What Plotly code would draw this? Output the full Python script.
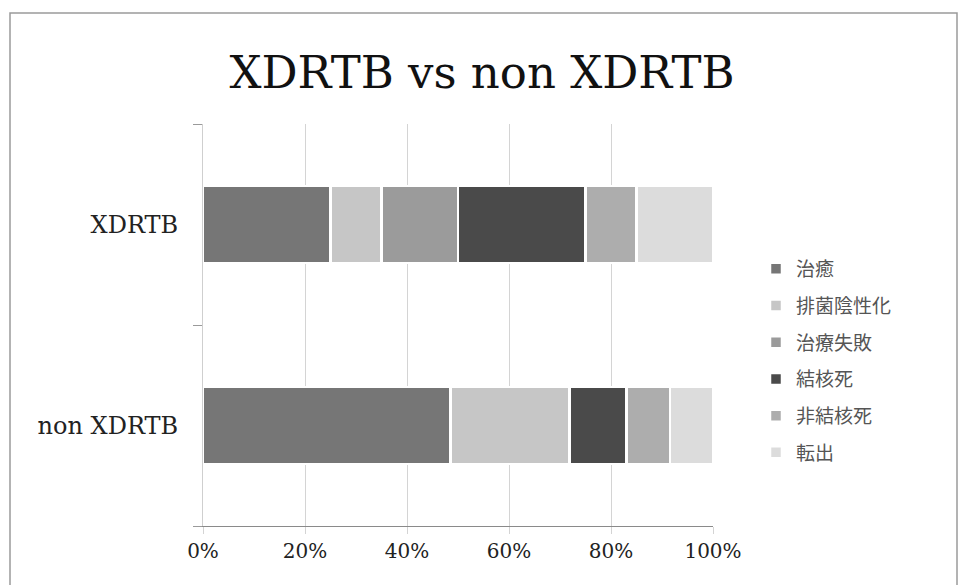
import plotly.graph_objects as go

# Outcome shares (%) for each patient group
groups = ["XDRTB", "non XDRTB"]
outcomes = ["治癒", "排菌陰性化", "治療失敗", "結核死", "非結核死", "転出"]
xdrtb_pct = [25.0, 10.0, 15.0, 25.0, 10.0, 15.0]
non_xdrtb_pct = [48.5, 23.4, 0.0, 11.1, 8.6, 8.4]
x_ticks = [0, 20, 40, 60, 80, 100]
x_tick_labels = [f"{v}%" for v in x_ticks]

colors = ["#767676", "#c6c6c6", "#9b9b9b", "#4a4a4a", "#adadad", "#dcdcdc"]

fig = go.Figure()
for i, name in enumerate(outcomes):
    fig.add_trace(go.Bar(
        y=groups,
        x=[xdrtb_pct[i], non_xdrtb_pct[i]],
        name=name,
        orientation="h",
        marker=dict(color=colors[i], line=dict(color="white", width=2.5)),
        legendgroup=name,
    ))

L, R, T, B = 203, 247, 124, 59
W = 960 - L - R
H = 585 - T - B

def px_x(p):
    return (p - L) / W

def px_y(p):
    return (585 - B - p) / H

fig.update_layout(
    width=960, height=585,
    margin=dict(l=L, r=R, t=T, b=B),
    paper_bgcolor="white", plot_bgcolor="white",
    barmode="stack", bargap=0.615,
    title=dict(
        text="XDRTB vs non XDRTB",
        x=482 / 960, xref="container", xanchor="center",
        y=1 - 72 / 585, yref="container", yanchor="middle",
        font=dict(family="DejaVu Serif", size=45, color="#111111"),
    ),
    xaxis=dict(
        range=[0, 100], tickvals=x_ticks, ticktext=x_tick_labels,
        showgrid=True, gridcolor="#d4d4d4", gridwidth=1,
        showline=True, linecolor="#8a8a8a", linewidth=1,
        ticks="outside", ticklen=7, tickcolor="#d4d4d4",
        zeroline=False,
        tickfont=dict(family="DejaVu Serif", size=20, color="#222222"),
    ),
    yaxis=dict(
        type="category", categoryorder="array",
        categoryarray=["non XDRTB", "XDRTB"],
        tickson="boundaries", ticks="outside", ticklen=9,
        tickcolor="#9a9a9a", showgrid=False,
        showline=True, linecolor="#cfcfcf", linewidth=1,
        ticklabelstandoff=19,
        tickfont=dict(family="DejaVu Serif", size=24, color="#222222"),
    ),
    legend=dict(
        x=px_x(756), y=px_y(250), xanchor="left", yanchor="top",
        traceorder="grouped", tracegroupgap=9,
        font=dict(family="Noto Sans CJK JP", size=19, color="#555555"),
        bgcolor="rgba(0,0,0,0)",
    ),
    shapes=[dict(
        type="rect", xref="paper", yref="paper",
        x0=px_x(10), x1=px_x(957), y0=px_y(600), y1=px_y(13),
        line=dict(color="#9a9a9a", width=1.5), fillcolor="rgba(0,0,0,0)",
        layer="below",
    )],
)

fig.write_html("out.html")
